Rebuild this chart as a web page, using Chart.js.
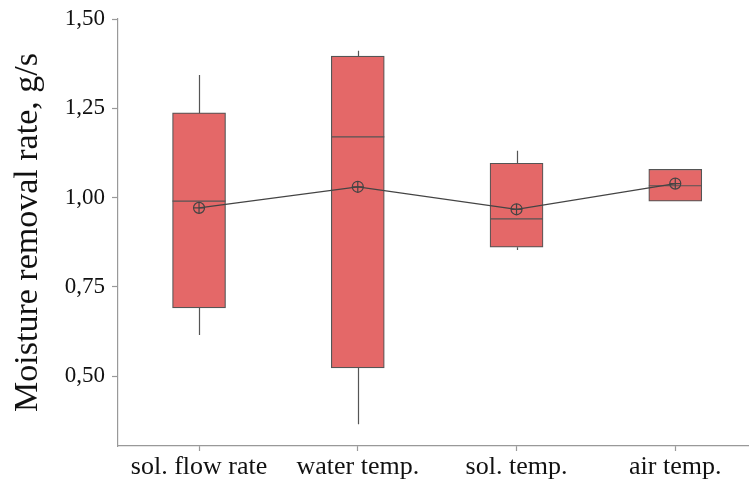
<!DOCTYPE html>
<html>
<head>
<meta charset="utf-8">
<script src="https://cdn.jsdelivr.net/npm/chart.js@4"></script>
<style>
  html, body { margin: 0; padding: 0; background: #fff; overflow: hidden; }
  #wrap { width: 755px; height: 481px; position: relative; }
</style>
</head>
<body>
<div id="wrap"><canvas id="chart"></canvas></div>
<script>
const categories = ['sol. flow rate', 'water temp.', 'sol. temp.', 'air temp.'];
const whiskerLow = [0.615, 0.365, 0.853, 0.990];
const q1 = [0.691, 0.523, 0.861, 0.990];
const medians = [0.990, 1.170, 0.940, 1.033];
const q3 = [1.237, 1.396, 1.096, 1.079];
const whiskerHigh = [1.343, 1.411, 1.131, 1.079];
const means = [0.971, 1.030, 0.967, 1.039];
const yTicks = [0.5, 0.75, 1.0, 1.25, 1.5];

const positions = categories.map((c, i) => i + 1);
const strokeColor = '#555';
const axisColor = '#999';
const serif = '"Liberation Serif", "Times New Roman", serif';

const boxPlugin = {
    id: 'boxParts',
    beforeDatasetsDraw(chart) {
        const { ctx, scales: { x, y } } = chart;
        ctx.save();
        ctx.strokeStyle = strokeColor;
        ctx.lineWidth = 1.2;
        positions.forEach((p, i) => {
            const px = Math.round(x.getPixelForValue(p)) + 0.5;
            ctx.beginPath();
            ctx.moveTo(px, y.getPixelForValue(whiskerHigh[i]));
            ctx.lineTo(px, y.getPixelForValue(q3[i]));
            ctx.moveTo(px, y.getPixelForValue(q1[i]));
            ctx.lineTo(px, y.getPixelForValue(whiskerLow[i]));
            ctx.stroke();
        });
        ctx.restore();
    },
    afterDatasetDraw(chart, args) {
        if (args.index !== 0) return;
        const { ctx, scales: { y } } = chart;
        const meta = chart.getDatasetMeta(0);
        ctx.save();
        ctx.strokeStyle = strokeColor;
        ctx.lineWidth = 1.2;
        meta.data.forEach((bar, i) => {
            const half = bar.width / 2;
            const py = y.getPixelForValue(medians[i]);
            ctx.beginPath();
            ctx.moveTo(bar.x - half, py);
            ctx.lineTo(bar.x + half, py);
            ctx.stroke();
        });
        ctx.restore();
    }
};

new Chart(document.getElementById('chart'), {
    type: 'bar',
    data: {
        datasets: [
            {
                type: 'bar',
                data: positions.map((p, i) => ({ x: p, y: [q1[i], q3[i]] })),
                backgroundColor: '#e46868',
                borderColor: strokeColor,
                borderWidth: 1.2,
                borderSkipped: false,
                barThickness: 53,
                order: 2
            },
            {
                type: 'line',
                data: positions.map((p, i) => ({ x: p, y: means[i] })),
                borderColor: '#444',
                borderWidth: 1.2,
                pointStyle: 'circle',
                pointRadius: 5.5,
                pointBackgroundColor: 'rgba(0,0,0,0)',
                pointBorderColor: '#444',
                pointBorderWidth: 1.2,
                tension: 0,
                order: 1
            },
            {
                type: 'line',
                data: positions.map((p, i) => ({ x: p, y: means[i] })),
                showLine: false,
                pointStyle: 'cross',
                pointRadius: 5.5,
                pointBorderColor: '#444',
                pointBorderWidth: 1.2,
                order: 0
            }
        ]
    },
    options: {
        responsive: true,
        maintainAspectRatio: false,
        animation: false,
        layout: { padding: { top: 19, right: 1, left: 0, bottom: 0 } },
        plugins: {
            legend: { display: false },
            tooltip: { enabled: false }
        },
        scales: {
            x: {
                type: 'linear',
                min: 0.4895,
                max: 4.46,
                offset: false,
                grid: { display: true, offset: false, drawOnChartArea: false, tickLength: 5, tickColor: axisColor, tickWidth: 1.2 },
                border: { color: axisColor, width: 1.2 },
                afterBuildTicks: scale => { scale.ticks = positions.map(v => ({ value: v })); },
                afterFit: scale => {
                    scale.height = 35;
                    scale.paddingLeft = 0;
                    scale.paddingRight = 0;
                },
                ticks: {
                    color: '#111',
                    font: { family: serif, size: 26 },
                    padding: 1,
                    maxRotation: 0,
                    autoSkip: false,
                    callback: value => categories[value - 1]
                }
            },
            y: {
                min: 0.304,
                max: 1.5,
                grid: { display: true, offset: false, drawOnChartArea: false, tickLength: 6, tickColor: axisColor, tickWidth: 1.2 },
                border: { color: axisColor, width: 1.2 },
                afterBuildTicks: scale => { scale.ticks = yTicks.map(v => ({ value: v })); },
                afterFit: scale => {
                    scale.width = 118;
                    scale.paddingTop = 0;
                    scale.paddingBottom = 0;
                },
                ticks: {
                    color: '#111',
                    font: { family: serif, size: 23 },
                    padding: 7,
                    callback: value => value.toFixed(2).replace('.', ',')
                },
                title: {
                    display: true,
                    text: 'Moisture removal rate, g/s',
                    color: '#111',
                    font: { family: serif, size: 34 },
                    padding: { top: 8, bottom: 0 }
                }
            }
        }
    },
    plugins: [boxPlugin]
});
</script>
</body>
</html>
